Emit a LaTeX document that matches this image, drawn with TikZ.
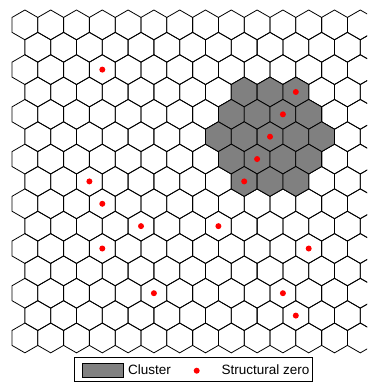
\documentclass[tikz,border=0pt]{standalone}
\usepackage{fontspec}
\setmainfont{Liberation Sans}
\usetikzlibrary{shapes.geometric}

\begin{document}
\begin{tikzpicture}[x=1pt,y=-1pt,
  hexcell/.style={regular polygon, regular polygon sides=6, shape border rotate=30,
    minimum size=29.8pt, inner sep=0pt, draw=black, line width=0.8pt},
  zerodot/.style={circle, fill=red, inner sep=0pt, minimum size=6pt},
  legtext/.style={anchor=west, inner sep=0pt, font=\fontsize{13.5}{15}\selectfont}]
\useasboundingbox (0,0) rectangle (367,382);
\clip (0,0) rectangle (367,382);
% hexagonal grid
\foreach \r in {0,...,14}
  \foreach \k in {0,...,14}
    \node[hexcell] (h-\r-\k) at ({24.9+25.8*\k+12.9*mod(\r,2)}, {24.9+22.36*\r}) {};
% cluster
\foreach \r/\k in {3/8,3/9,3/10, 4/8,4/9,4/10,4/11, 5/7,5/8,5/9,5/10,5/11,
                   6/8,6/9,6/10,6/11, 7/8,7/9,7/10}
  \node[hexcell, fill=gray] (c-\r-\k) at (h-\r-\k) {};
% structural zeros
\foreach \r/\k in {2/3, 3/10, 4/10, 5/9, 6/9, 7/8, 7/2, 8/3, 9/4, 9/7,
                   10/3, 10/11, 12/5, 12/10, 13/10}
  \node[zerodot] (z-\r-\k) at (h-\r-\k) {};
% legend
\node[draw, line width=0.8pt, minimum width=238pt, minimum height=24pt, inner sep=0pt] (legend) at (193,369) {};
\node[draw, fill=gray, line width=0.8pt, minimum width=40.6pt, minimum height=14pt, inner sep=0pt] (legclus) at (103,370) {};
\node[legtext] (legclustxt) at (128,370) {Cluster};
\node[zerodot] (legzero) at (196.7,370.7) {};
\node[legtext] (legzerotxt) at (221.5,370) {Structural zero};
\end{tikzpicture}
\end{document}
